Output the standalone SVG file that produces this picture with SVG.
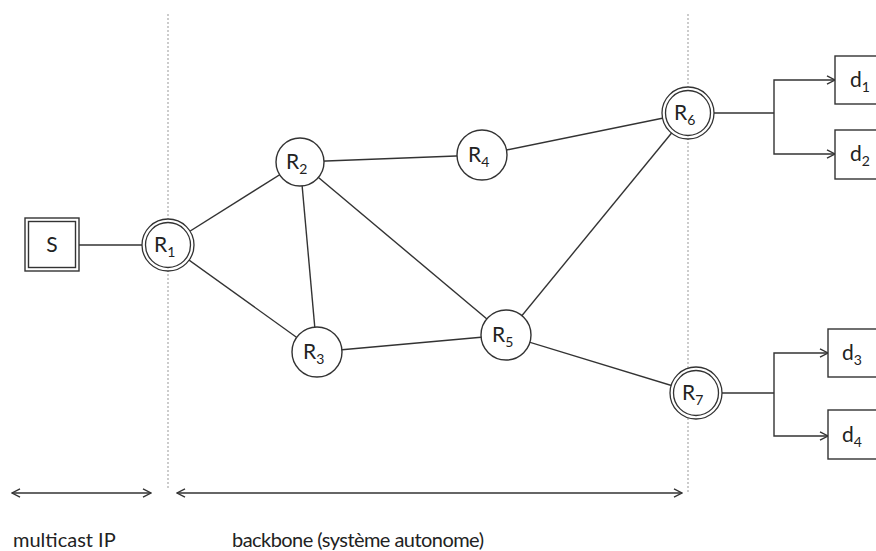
<svg xmlns="http://www.w3.org/2000/svg" width="876" height="551" viewBox="0 0 876 551">
  <style>
    .bg { fill: #ffffff; }
    .link { stroke: #333333; stroke-width: 1.4; fill: none; }
    .guide { stroke: #999999; stroke-width: 1; stroke-dasharray: 2 2; fill: none; }
    .node { fill: #ffffff; stroke: #333333; stroke-width: 1.4; }
    .ring { fill: #ffffff; stroke: #333333; stroke-width: 1.3; }
    .box { fill: #ffffff; stroke: #333333; stroke-width: 1.4; }
    .lbl { font-family: Lato, "Liberation Sans", sans-serif; font-size: 21px; fill: #222222; }
    .sub { font-size: 14px; }
    .cap { font-family: Lato, "Liberation Sans", sans-serif; font-size: 20px; fill: #222222; }
  </style>
  <defs>
    <marker id="chev" viewBox="0 0 10 10" refX="9" refY="5" markerWidth="10" markerHeight="10" markerUnits="userSpaceOnUse" orient="auto-start-reverse">
      <path d="M1 0.8 L9 5 L1 9.2" fill="none" stroke="#333333" stroke-width="1.4"/>
    </marker>
  </defs>

  <rect class="bg" x="0" y="0" width="876" height="551"/>

  <!-- domain boundaries -->
  <g id="boundaries">
    <line class="guide" x1="168" y1="14" x2="168" y2="490"/>
    <line class="guide" x1="688" y1="14" x2="688" y2="492"/>
  </g>

  <!-- links between nodes -->
  <g id="connectors">
    <line class="link" x1="79" y1="245" x2="168" y2="245"/>
    <line class="link" x1="168" y1="245" x2="300" y2="162"/>
    <line class="link" x1="168" y1="245" x2="317" y2="352"/>
    <line class="link" x1="300" y1="162" x2="482" y2="155"/>
    <line class="link" x1="300" y1="162" x2="317" y2="352"/>
    <line class="link" x1="300" y1="162" x2="506" y2="335"/>
    <line class="link" x1="482" y1="155" x2="688" y2="113"/>
    <line class="link" x1="317" y1="352" x2="506" y2="335"/>
    <line class="link" x1="506" y1="335" x2="688" y2="113"/>
    <line class="link" x1="506" y1="335" x2="696" y2="393"/>
    <!-- fan-out from R6 -->
    <line class="link" x1="714" y1="113" x2="774" y2="113"/>
    <polyline class="link" points="835,80 774,80 774,154 835,154" marker-start="url(#chev)" marker-end="url(#chev)"/>
    <!-- fan-out from R7 -->
    <line class="link" x1="722" y1="393" x2="774" y2="393"/>
    <polyline class="link" points="828,353 774,353 774,436 828,436" marker-start="url(#chev)" marker-end="url(#chev)"/>
    <!-- extent arrows -->
    <line class="link" x1="12" y1="493" x2="151" y2="493" marker-start="url(#chev)" marker-end="url(#chev)"/>
    <line class="link" x1="177" y1="493" x2="682" y2="493" marker-start="url(#chev)" marker-end="url(#chev)"/>
  </g>

  <g id="S">
    <rect class="box" x="25" y="218" width="54" height="53"/>
    <rect class="box" x="28.5" y="221.5" width="47" height="46"/>
    <text class="lbl" x="52" y="252" text-anchor="middle">S</text>
  </g>

  <g id="R1">
    <circle class="ring" cx="168" cy="245" r="26"/>
    <circle class="ring" cx="168" cy="245" r="22.5"/>
    <text class="lbl" x="154" y="252">R<tspan class="sub" dy="5">1</tspan></text>
  </g>

  <g id="R2">
    <circle class="node" cx="300" cy="162" r="24"/>
    <text class="lbl" x="286" y="169">R<tspan class="sub" dy="5">2</tspan></text>
  </g>

  <g id="R3">
    <circle class="node" cx="317" cy="352" r="25"/>
    <text class="lbl" x="303" y="359">R<tspan class="sub" dy="5">3</tspan></text>
  </g>

  <g id="R4">
    <circle class="node" cx="482" cy="155" r="25"/>
    <text class="lbl" x="468" y="162">R<tspan class="sub" dy="5">4</tspan></text>
  </g>

  <g id="R5">
    <circle class="node" cx="506" cy="335" r="25"/>
    <text class="lbl" x="492" y="342">R<tspan class="sub" dy="5">5</tspan></text>
  </g>

  <g id="R6">
    <circle class="ring" cx="688" cy="113" r="26"/>
    <circle class="ring" cx="688" cy="113" r="22.5"/>
    <text class="lbl" x="674" y="120">R<tspan class="sub" dy="5">6</tspan></text>
  </g>

  <g id="R7">
    <circle class="ring" cx="696" cy="393" r="26"/>
    <circle class="ring" cx="696" cy="393" r="22.5"/>
    <text class="lbl" x="682" y="400">R<tspan class="sub" dy="5">7</tspan></text>
  </g>

  <g id="d1">
    <rect class="box" x="835" y="56" width="60" height="48"/>
    <text class="lbl" x="850" y="87">d<tspan class="sub" dy="5">1</tspan></text>
  </g>

  <g id="d2">
    <rect class="box" x="835" y="130" width="60" height="49"/>
    <text class="lbl" x="850" y="161">d<tspan class="sub" dy="5">2</tspan></text>
  </g>

  <g id="d3">
    <rect class="box" x="828" y="329" width="60" height="48"/>
    <text class="lbl" x="842" y="360">d<tspan class="sub" dy="5">3</tspan></text>
  </g>

  <g id="d4">
    <rect class="box" x="828" y="410" width="60" height="49"/>
    <text class="lbl" x="842" y="442">d<tspan class="sub" dy="5">4</tspan></text>
  </g>

  <g id="captions">
    <text class="cap" x="13" y="547">multicast IP</text>
    <text class="cap" x="232" y="547" textLength="252" lengthAdjust="spacing">backbone (système autonome)</text>
  </g>
</svg>
